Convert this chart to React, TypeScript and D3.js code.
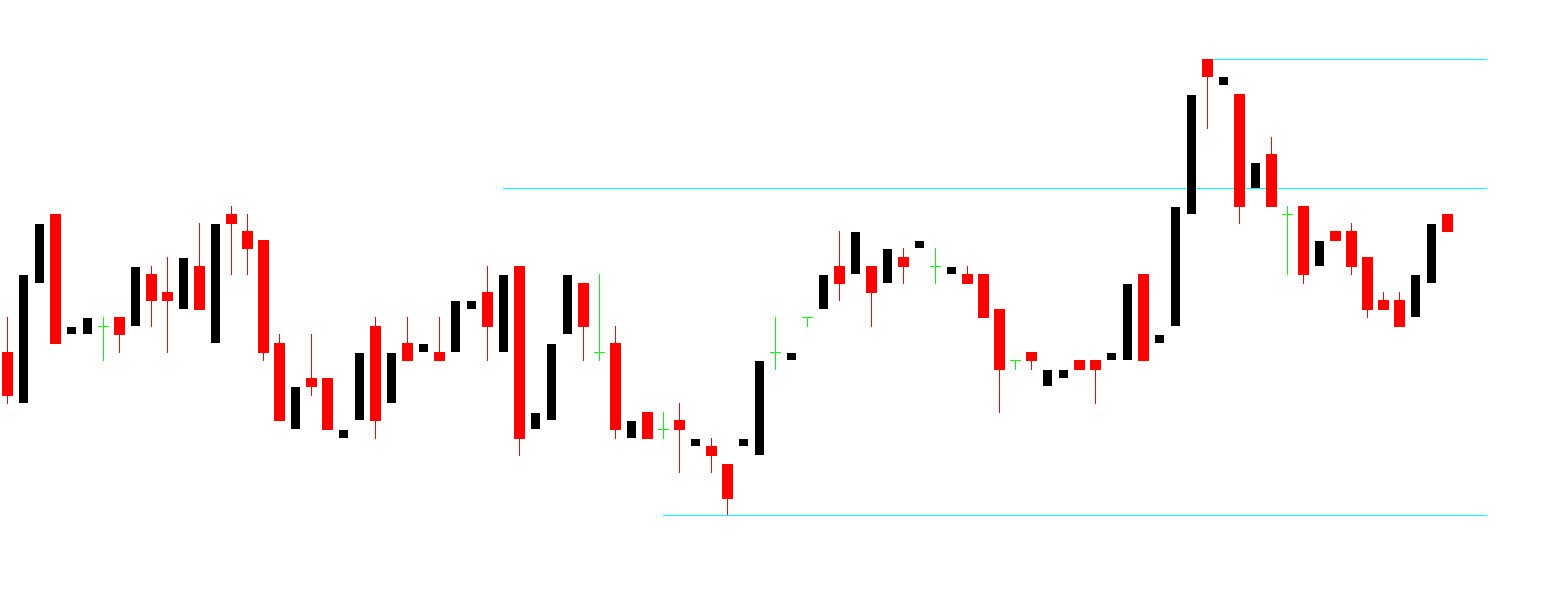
import React from "react";
import * as d3 from "d3";

// OHLC, one entry per bar
const opens = [
  1.2248, 1.2197, 1.2317, 1.2386, 1.2266, 1.2266, 1.2274, 1.2283, 1.2274, 1.2326,
  1.2308, 1.2291, 1.2334, 1.2257, 1.2386, 1.2369, 1.236, 1.2257, 1.2171, 1.2222,
  1.2222, 1.2162, 1.218, 1.2274, 1.2197, 1.2257, 1.2248, 1.2248, 1.2248, 1.2291,
  1.2308, 1.2248, 1.2334, 1.2171, 1.218, 1.2266, 1.2317, 1.2248, 1.2257, 1.2162,
  1.2188, 1.2171, 1.218, 1.2154, 1.2154, 1.2136, 1.2154, 1.2145, 1.2248, 1.224,
  1.2283, 1.2291, 1.2334, 1.2326, 1.2334, 1.2317, 1.2343, 1.2352, 1.2334, 1.2326,
  1.2326, 1.2326, 1.2291, 1.224, 1.2248, 1.2214, 1.2222, 1.224, 1.224, 1.224,
  1.224, 1.2326, 1.2257, 1.2274, 1.2386, 1.2541, 1.2515, 1.2506, 1.2412, 1.2446,
  1.2386, 1.2394, 1.2334, 1.2369, 1.2369, 1.2343, 1.23, 1.23, 1.2283, 1.2317,
  1.2386,
];
const highs = [
  1.2283, 1.2325, 1.2376, 1.2386, 1.2273, 1.2282, 1.2283, 1.2283, 1.2333, 1.2334,
  1.2343, 1.2342, 1.2377, 1.2376, 1.2394, 1.2386, 1.236, 1.2266, 1.2213, 1.2266,
  1.2222, 1.217, 1.2247, 1.2283, 1.2247, 1.2283, 1.2256, 1.2283, 1.2299, 1.2299,
  1.2334, 1.2325, 1.2334, 1.2187, 1.2256, 1.2325, 1.2317, 1.2326, 1.2274, 1.2179,
  1.2188, 1.2188, 1.2197, 1.2161, 1.2162, 1.2136, 1.2161, 1.2239, 1.2283, 1.2247,
  1.2283, 1.2325, 1.2369, 1.2368, 1.2334, 1.2351, 1.2352, 1.2359, 1.2352, 1.2333,
  1.2334, 1.2326, 1.2291, 1.224, 1.2248, 1.223, 1.223, 1.224, 1.224, 1.2247,
  1.2316, 1.2326, 1.2265, 1.2393, 1.2505, 1.2541, 1.2523, 1.2506, 1.2437, 1.2463,
  1.2394, 1.2394, 1.2359, 1.2369, 1.2377, 1.2343, 1.2308, 1.2308, 1.2325, 1.2376,
  1.2386,
];
const lows = [
  1.2196, 1.2197, 1.2317, 1.2256, 1.2266, 1.2266, 1.2239, 1.2247, 1.2274, 1.2273,
  1.2247, 1.2291, 1.229, 1.2257, 1.2325, 1.2325, 1.2239, 1.2179, 1.2171, 1.2204,
  1.217, 1.2162, 1.218, 1.2161, 1.2197, 1.2239, 1.2248, 1.2239, 1.2248, 1.2291,
  1.2239, 1.2248, 1.2144, 1.2171, 1.218, 1.2266, 1.2239, 1.2239, 1.2161, 1.2162,
  1.2161, 1.2161, 1.2127, 1.2154, 1.2127, 1.2085, 1.2154, 1.2145, 1.223, 1.224,
  1.2273, 1.2291, 1.2299, 1.2326, 1.2273, 1.2317, 1.2316, 1.2352, 1.2316, 1.2326,
  1.2316, 1.2282, 1.2187, 1.223, 1.223, 1.2214, 1.2222, 1.223, 1.2196, 1.224,
  1.224, 1.2239, 1.2257, 1.2274, 1.2386, 1.2471, 1.2515, 1.2376, 1.2412, 1.2393,
  1.2325, 1.2316, 1.2334, 1.2359, 1.2325, 1.2282, 1.229, 1.2273, 1.2283, 1.2317,
  1.2368,
];
const closes = [
  1.2204, 1.2325, 1.2376, 1.2256, 1.2273, 1.2282, 1.2274, 1.2265, 1.2333, 1.2299,
  1.2299, 1.2342, 1.229, 1.2376, 1.2376, 1.2351, 1.2247, 1.2179, 1.2213, 1.2213,
  1.217, 1.217, 1.2247, 1.2179, 1.2247, 1.2239, 1.2256, 1.2239, 1.2299, 1.2299,
  1.2273, 1.2325, 1.2161, 1.2187, 1.2256, 1.2325, 1.2273, 1.2248, 1.217, 1.2179,
  1.2161, 1.2171, 1.217, 1.2161, 1.2144, 1.2101, 1.2161, 1.2239, 1.2248, 1.2247,
  1.2283, 1.2325, 1.2316, 1.2368, 1.2307, 1.2351, 1.2333, 1.2359, 1.2334, 1.2333,
  1.2316, 1.2282, 1.223, 1.224, 1.2239, 1.223, 1.223, 1.223, 1.223, 1.2247,
  1.2316, 1.2239, 1.2265, 1.2393, 1.2505, 1.2523, 1.2523, 1.2393, 1.2437, 1.2393,
  1.2386, 1.2325, 1.2359, 1.2359, 1.2333, 1.229, 1.229, 1.2273, 1.2325, 1.2376,
  1.2368,
];

// horizontal levels: price and the bar they start from
const levelPrices = [1.2541, 1.2412, 1.2085];
const levelStarts = [75, 31, 41];

const W = 1554;
const H = 611;

export default function App() {
  const n = opens.length;
  const x = d3.scaleLinear().domain([0, n - 1]).range([7.5, 7.5 + 16 * (n - 1)]);
  const y = d3.scaleLinear().domain([1.2, 1.26]).range([600, 0]);
  const rightEdge = 1487;

  const bars = opens.map((o, i) => ({
    o,
    h: highs[i],
    l: lows[i],
    c: closes[i],
    cx: x(i),
  }));

  return (
    <svg
      width={W}
      height={H}
      style={{ position: "absolute", left: 0, top: 0, background: "#fff" }}
      shapeRendering="crispEdges"
    >
      {levelPrices.map((p, k) => (
        <line
          key={"lvl" + k}
          x1={x(levelStarts[k]) - 0.5}
          x2={rightEdge}
          y1={y(p) + 0.5}
          y2={y(p) + 0.5}
          stroke="#00ffff"
          strokeWidth={1}
        />
      ))}
      {bars.map((b, i) => {
        const top = y(Math.max(b.o, b.c));
        const bot = y(Math.min(b.o, b.c));
        if (b.o === b.c) {
          // doji: green cross
          return (
            <g key={i} stroke="#00ff00" strokeWidth={1}>
              <line x1={b.cx} x2={b.cx} y1={y(b.h)} y2={y(b.l)} />
              <line x1={b.cx - 5.5} x2={b.cx + 5.5} y1={top + 0.5} y2={top + 0.5} />
            </g>
          );
        }
        const bear = b.c < b.o;
        return (
          <g key={i}>
            {bear && (
              <line x1={b.cx} x2={b.cx} y1={y(b.h)} y2={y(b.l)} stroke="#ff0000" strokeWidth={1} />
            )}
            <rect
              x={bear ? b.cx - 5.5 : b.cx - 4.5}
              y={top}
              width={bear ? 11 : 9}
              height={Math.max(1, bot - top)}
              fill={bear ? "#ff0000" : "#000000"}
            />
          </g>
        );
      })}
    </svg>
  );
}
